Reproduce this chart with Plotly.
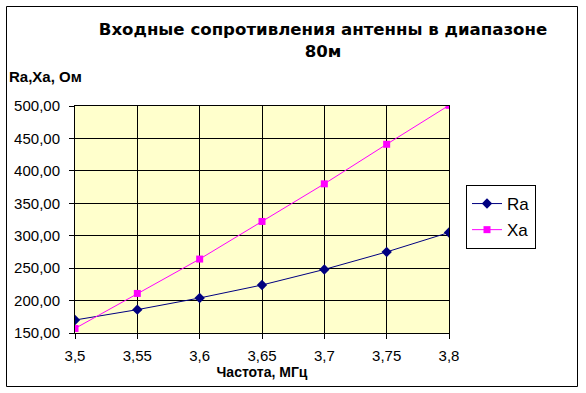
import plotly.graph_objects as go

freq = [3.5, 3.55, 3.6, 3.65, 3.7, 3.75, 3.8]
ra = [170, 186, 204, 224, 248, 275, 305]
xa = [157, 211, 264, 322, 380, 441, 501]
x_ticks = [3.5, 3.55, 3.6, 3.65, 3.7, 3.75, 3.8]
y_ticks = [150, 200, 250, 300, 350, 400, 450, 500]

W, H = 586, 393
L, R, T, B = 75, 137, 106, 60
pw, ph = W - L - R, H - T - B

def px(x):
    return (x - L) / pw

def py(y):
    return (H - B - y) / ph

ARIAL = "Arial, Liberation Sans, sans-serif"

fig = go.Figure()
fig.add_trace(go.Scatter(x=freq, y=ra, name="Ra", mode="lines+markers", legendgroup="ra",
                         line=dict(color="#000080", width=1),
                         marker=dict(symbol="diamond", size=8, color="#000080")))
fig.add_trace(go.Scatter(x=freq, y=xa, name="Xa", mode="lines+markers", legendgroup="xa",
                         line=dict(color="#FF00FF", width=1),
                         marker=dict(symbol="square", size=7, color="#FF00FF")))

fig.update_layout(
    width=W, height=H,
    margin=dict(l=L, r=R, t=T, b=B),
    paper_bgcolor="white",
    plot_bgcolor="#FFFFCC",
    separators=", ",
    font=dict(family=ARIAL, color="black", size=14),
    title=dict(text="<b>Входные сопротивления антенны в диапазоне<br>80м</b>",
               x=323 / W, xanchor="center", y=1 - 35 / H, yanchor="top",
               font=dict(size=16.6, family="DejaVu Sans, sans-serif")),
    showlegend=True,
    legend=dict(x=px(466), y=py(185), xanchor="left", yanchor="top",
                bgcolor="white", bordercolor="black", borderwidth=1,
                font=dict(size=17), itemwidth=30, tracegroupgap=1),
    xaxis=dict(range=[3.5, 3.8], tickvals=x_ticks, showgrid=True,
               gridcolor="black", gridwidth=1, showline=True, linecolor="black",
               mirror=True, ticks="outside", ticklen=5, tickcolor="black",
               zeroline=False, tickfont=dict(size=15), ticklabelstandoff=4,
               title=dict(text="<b>Частота, МГц</b>", font=dict(size=14), standoff=3)),
    yaxis=dict(range=[150, 500], tickvals=y_ticks, tickformat=".2f", showgrid=True,
               gridcolor="black", gridwidth=1, showline=True, linecolor="black",
               mirror=True, ticks="outside", ticklen=5, tickcolor="black",
               zeroline=False, tickfont=dict(size=15), ticklabelstandoff=6),
    annotations=[dict(text="<b>Ra,Xa, Ом</b>", x=px(7), y=py(76), xref="paper", yref="paper",
                      xanchor="left", yanchor="middle", showarrow=False,
                      font=dict(size=15))],
    shapes=[dict(type="rect", xref="paper", yref="paper",
                 x0=px(6.5), x1=px(577.5), y0=py(386.5), y1=py(6.5),
                 line=dict(color="black", width=1), layer="below")],
)

fig.write_html("out.html")
